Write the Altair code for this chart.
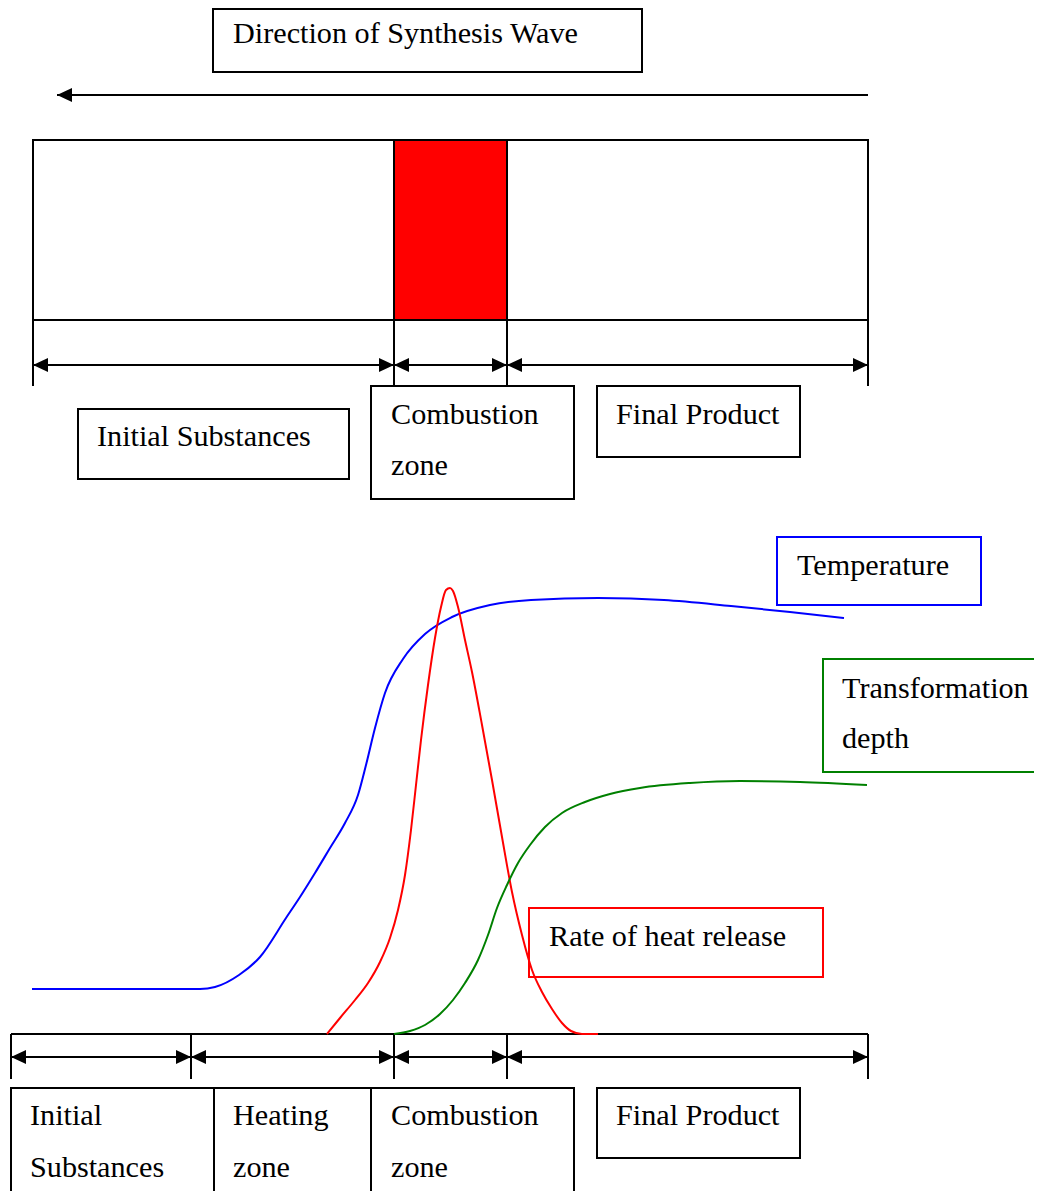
import altair as alt
import pandas as pd

# ---------------- data (image pixel coordinates) ----------------
# text labels
label_text = ["Direction of Synthesis Wave", "Initial Substances", "Combustion", "zone",
              "Final Product", "Temperature", "Transformation", "depth",
              "Rate of heat release", "Initial", "Substances", "Heating", "zone",
              "Combustion", "zone", "Final Product"]
label_x = [233, 97, 391, 391, 616, 797, 842, 842, 549, 30, 30, 233, 233, 391, 391, 616]
label_y = [43, 446, 424, 475, 424, 575, 698, 748, 946, 1125, 1177, 1125, 1177, 1125, 1177, 1125]

# framed text boxes
box_x = [213, 78, 371, 597, 777, 823, 529, 11, 214, 371, 597]
box_x2 = [642, 349, 574, 800, 981, 1050, 823, 214, 371, 574, 800]
box_y = [9, 409, 386, 386, 537, 659, 908, 1088, 1088, 1088, 1088]
box_y2 = [72, 479, 499, 457, 605, 772, 977, 1215, 1215, 1215, 1158]
box_color = ["black", "black", "black", "black", "#0000FF", "#008000", "#FF0000",
             "black", "black", "black", "black"]

# sample panel: full bar and combustion zone
panel_x = [33, 394]
panel_x2 = [868, 507]
panel_y = [140, 140]
panel_y2 = [320, 320]
panel_fill = ["white", "#FF0000"]

# straight lines
line_x = [57, 33, 868, 394, 507, 33, 394, 507, 11, 11, 191, 394, 507, 868, 11, 191, 394, 507]
line_x2 = [868, 33, 868, 394, 507, 394, 507, 868, 868, 11, 191, 394, 507, 868, 191, 394, 507, 868]
line_y = [95, 320, 320, 320, 320, 365, 365, 365, 1034, 1034, 1034, 1034, 1034, 1034, 1057, 1057, 1057, 1057]
line_y2 = [95, 386, 386, 386, 386, 365, 365, 365, 1034, 1079, 1079, 1079, 1079, 1079, 1057, 1057, 1057, 1057]

# arrow heads (tip positions)
head_left_x = [57, 33, 394, 507, 11, 191, 394, 507]
head_left_y = [95, 365, 365, 365, 1057, 1057, 1057, 1057]
head_right_x = [394, 507, 868, 191, 394, 507, 868]
head_right_y = [365, 365, 365, 1057, 1057, 1057, 1057]

# curves
temp_x = [32, 200, 215, 239, 260, 286, 300, 315, 330, 345, 358, 366, 375, 385, 403, 425,
          452, 490, 531, 598, 664, 731, 790, 844]
temp_y = [989, 989, 987, 975, 957, 918, 897, 873, 848, 823, 795, 765, 728, 693, 659, 634,
          617, 605, 600, 598, 600, 606, 612, 618]
heat_x = [327, 340, 355, 368, 380, 390, 398, 405, 411, 416, 421, 428, 435, 441, 446, 450,
          453, 458, 465, 472, 482, 492, 502, 512, 522, 532, 542, 552, 562, 571, 582, 598]
heat_y = [1034, 1018, 1000, 983, 962, 938, 910, 875, 830, 785, 740, 685, 638, 607, 590, 588,
          591, 607, 640, 672, 725, 780, 837, 892, 935, 970, 992, 1009, 1023, 1031, 1034, 1034]
depth_x = [394, 410, 425, 440, 453, 465, 478, 488, 497, 507, 518, 530, 545, 562, 585, 610,
           640, 690, 740, 800, 867]
depth_y = [1034, 1031, 1025, 1014, 1000, 983, 960, 935, 908, 885, 863, 845, 827, 813, 802, 794,
           788, 783, 781, 782, 785]

# ---------------- build tables ----------------
labels = pd.DataFrame({"text": label_text, "x": label_x, "y": label_y})
boxes = pd.DataFrame({"x": box_x, "x2": box_x2, "y": box_y, "y2": box_y2, "c": box_color})
panel = pd.DataFrame({"x": panel_x, "x2": panel_x2, "y": panel_y, "y2": panel_y2, "f": panel_fill})
lines = pd.DataFrame({"x": line_x, "x2": line_x2, "y": line_y, "y2": line_y2})
hl = pd.DataFrame({"x": head_left_x, "y": head_left_y})
hr = pd.DataFrame({"x": head_right_x, "y": head_right_y})
curves = pd.concat([
    pd.DataFrame({"x": temp_x, "y": temp_y, "s": "temp", "c": "#0000FF"}),
    pd.DataFrame({"x": heat_x, "y": heat_y, "s": "heat", "c": "#FF0000"}),
    pd.DataFrame({"x": depth_x, "y": depth_y, "s": "depth", "c": "#008000"}),
])

xs = alt.Scale(domain=[8, 1034], nice=False, zero=False)
ys = alt.Scale(domain=[8, 1191], nice=False, zero=False, reverse=True)
X = lambda f="x": alt.X(f"{f}:Q", scale=xs, axis=None)
Y = lambda f="y": alt.Y(f"{f}:Q", scale=ys, axis=None)

panel_layer = alt.Chart(panel).mark_rect(stroke="black", strokeWidth=2).encode(
    x=X(), x2="x2", y=Y(), y2="y2", fill=alt.Fill("f:N", scale=None))

rule_layer = alt.Chart(lines).mark_rule(color="black", strokeWidth=2).encode(
    x=X(), x2="x2", y=Y(), y2="y2")

curve_layer = alt.Chart(curves).mark_line(strokeWidth=2, interpolate="monotone").encode(
    x=X(), y=Y(), detail="s:N", color=alt.Color("c:N", scale=None))

box_layer = alt.Chart(boxes).mark_rect(fillOpacity=0, strokeWidth=2).encode(
    x=X(), x2="x2", y=Y(), y2="y2", stroke=alt.Stroke("c:N", scale=None))

text_layer = alt.Chart(labels).mark_text(
    align="left", baseline="alphabetic", font="Liberation Serif", fontSize=30.2, color="black"
).encode(x=X(), y=Y(), text="text:N")

left_head = alt.Chart(hl).mark_point(
    shape="M0,0L2,-0.93L2,0.93Z", size=225, filled=True, fill="black", opacity=1, strokeWidth=0
).encode(x=X(), y=Y())
right_head = alt.Chart(hr).mark_point(
    shape="M0,0L-2,-0.93L-2,0.93Z", size=225, filled=True, fill="black", opacity=1, strokeWidth=0
).encode(x=X(), y=Y())

chart = alt.layer(
    panel_layer, rule_layer, curve_layer, box_layer, text_layer, left_head, right_head
).properties(
    width=1026, height=1183, padding=0, autosize=alt.AutoSizeParams(type="none")
).configure_view(stroke=None)

chart.save("out.html", embed_options={"renderer": "svg", "actions": False})
